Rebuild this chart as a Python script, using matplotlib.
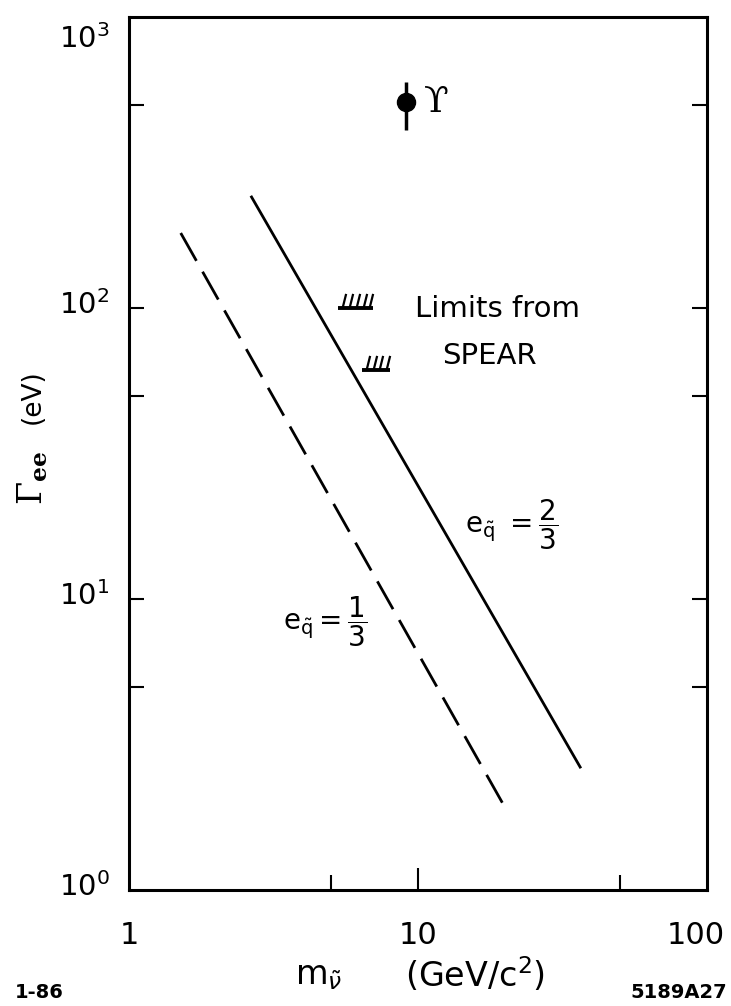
import numpy as np
import matplotlib
matplotlib.use("Agg")
import matplotlib.pyplot as plt
from matplotlib.path import Path
from matplotlib.ticker import FixedLocator, NullFormatter

plt.rcParams["font.family"] = ["DejaVu Sans"]
plt.rcParams["mathtext.fontset"] = "dejavusans"

# ---- data ----
x_tick_values = [1, 10, 100]
x_tick_labels = ["1", "10", "100"]
x_minor_ticks = [5, 50]
y_tick_values = [1, 10, 100, 1000]
y_tick_exponents = ["0", "1", "2", "3"]
y_minor_ticks = [5, 50, 500]

# predicted Gamma_ee vs. mass for squark charges 2/3 (solid) and 1/3 (dashed)
mass_q23 = [2.64, 36.6]
gamma_q23 = [243.0, 2.62]
mass_q13 = [1.51, 20.5]
gamma_q13 = [181.0, 1.84]

# Upsilon measurement
upsilon_mass = [9.1]
upsilon_gamma = [510.0]
upsilon_err_low = [100.0]
upsilon_err_high = [90.0]

# SPEAR upper limits: (mass from, mass to, Gamma_ee), number of hatch strokes
spear_mass_lo = [5.3, 6.4]
spear_mass_hi = [7.0, 8.0]
spear_gamma = [100.0, 61.0]
spear_strokes = [5, 4]

W, H = 731, 1006
fig = plt.figure(figsize=(W / 100, H / 100), dpi=100)
L, R, T, B = 129, 707, 17, 890
ax = fig.add_axes([L / W, 1 - B / H, (R - L) / W, (B - T) / H])
ax.set_xscale("log")
ax.set_yscale("log")
ax.set_xlim(1, 100)
ax.set_ylim(1, 1000)

for s in ax.spines.values():
    s.set_linewidth(2.2)

# ticks (inside, no automatic labels)
ax.xaxis.set_major_locator(FixedLocator([10]))
ax.xaxis.set_minor_locator(FixedLocator(x_minor_ticks))
ax.yaxis.set_major_locator(FixedLocator([10, 100]))
ax.yaxis.set_minor_locator(FixedLocator(y_minor_ticks))
ax.xaxis.set_major_formatter(NullFormatter())
ax.xaxis.set_minor_formatter(NullFormatter())
ax.yaxis.set_major_formatter(NullFormatter())
ax.yaxis.set_minor_formatter(NullFormatter())
ax.tick_params(axis="x", which="both", direction="in", bottom=True, top=False, width=1.5)
ax.tick_params(axis="x", which="major", length=16)
ax.tick_params(axis="x", which="minor", length=11)
ax.tick_params(axis="y", which="both", direction="in", left=True, right=True,
               length=11, width=1.5)

# theory lines
ax.plot(mass_q23, gamma_q23, color="black", lw=2.0, solid_capstyle="butt")
ax.plot(mass_q13, gamma_q13, color="black", lw=2.0, dashes=(11.5, 4.5))

# Upsilon point
ax.errorbar(upsilon_mass, upsilon_gamma,
            yerr=[upsilon_err_low, upsilon_err_high],
            fmt="o", color="black", ms=13, elinewidth=2.5, capsize=0)
ax.annotate("\u03d2", xy=(upsilon_mass[0], upsilon_gamma[0]), xytext=(13, 0),
            textcoords="offset points", ha="left", va="center",
            fontsize=26, family="DejaVu Serif")

# SPEAR limits: base bar with slanted hatch strokes on top
stroke = Path([(0, 0), (0.25, 1)], [Path.MOVETO, Path.LINETO])
for m0, m1, g, n in zip(spear_mass_lo, spear_mass_hi, spear_gamma, spear_strokes):
    ax.plot([m0, m1], [g, g], color="black", lw=2.8, solid_capstyle="butt")
    xs = np.geomspace(m0 * 1.03, m1 * 0.97, n)
    ax.plot(xs, [g] * n, linestyle="none", marker=stroke, ms=21,
            mec="black", mew=1.6, mfc="none")

ax.text((415 - L) / (R - L), 1 - (309 - T) / (B - T), "Limits from",
        transform=ax.transAxes, ha="left", va="center", fontsize=21)
ax.text((442 - L) / (R - L), 1 - (356 - T) / (B - T), "SPEAR",
        transform=ax.transAxes, ha="left", va="center", fontsize=21)

# line labels
ax.text((283 - L) / (R - L), 1 - (622 - T) / (B - T),
        r"$\mathrm{e}_{\tilde{\mathrm{q}}} = \dfrac{1}{3}$", transform=ax.transAxes,
        ha="left", va="center", fontsize=20)
ax.text((465 - L) / (R - L), 1 - (525 - T) / (B - T),
        r"$\mathrm{e}_{\tilde{\mathrm{q}}}\ = \dfrac{2}{3}$", transform=ax.transAxes,
        ha="left", va="center", fontsize=20)

# y tick labels 10^n
for v, e in zip(y_tick_values, y_tick_exponents):
    dy = -16 if v == y_tick_values[-1] else 2
    ax.annotate(r"$10^{%s}$" % e, xy=(0, v), xycoords=("axes fraction", "data"),
                xytext=(-14, dy), textcoords="offset points",
                ha="right", va="center", fontsize=21)

# x tick labels
for v, lab in zip(x_tick_values, x_tick_labels):
    dx = -8 if v == x_tick_values[-1] else 0
    ax.annotate(lab, xy=(v, 0), xycoords=("data", "axes fraction"),
                xytext=(dx, -33), textcoords="offset points",
                ha="center", va="center", fontsize=22)

# axis titles
fig.text(33 / W, 1 - 478 / H, r"$\Gamma_{\mathbf{ee}}$", rotation=90,
         ha="center", va="center", fontsize=24, math_fontfamily="dejavuserif")
fig.text(33 / W, 1 - 397 / H, "(eV)", rotation=90,
         ha="center", va="center", fontsize=19)
fig.text(295 / W, 1 - 975 / H, r"$\mathrm{m}_{\tilde{\nu}}$",
         ha="left", va="center", fontsize=24)
fig.text(405 / W, 1 - 975 / H, r"(GeV/c$^2$)",
         ha="left", va="center", fontsize=24)

# figure codes
fig.text(15 / W, 1 - 993 / H, "1-86", ha="left", va="center",
         fontsize=14, fontweight="bold")
fig.text(727 / W, 1 - 993 / H, "5189A27", ha="right", va="center",
         fontsize=14, fontweight="bold")

fig.savefig("out.png", dpi=100)
